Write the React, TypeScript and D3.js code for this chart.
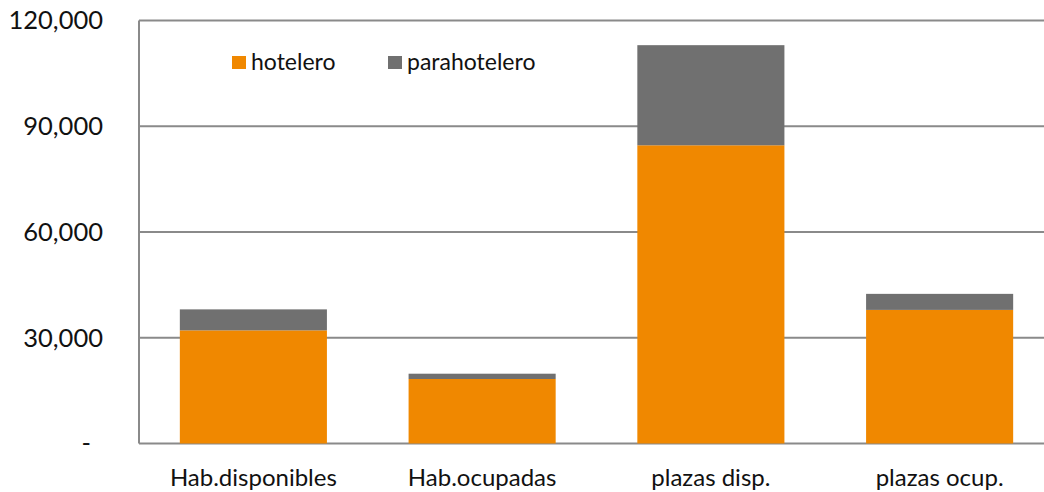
import React from 'react';
import * as d3 from 'd3';

const categories = ['Hab.disponibles', 'Hab.ocupadas', 'plazas disp.', 'plazas ocup.'];
const hotelero = [32100, 18300, 84600, 37900];
const parahotelero = [5950, 1500, 28400, 4550];
const seriesNames = ['hotelero', 'parahotelero'];
const seriesColors = ['#F08800', '#707070'];
const yTicks = [0, 30000, 60000, 90000, 120000];

const W = 1044;
const H = 492;
const FONT = 'Lato, "Open Sans", sans-serif';

const App = () => {
  // plot area runs a bit past the right edge of the picture
  const x = d3.scaleBand<string>()
    .domain(categories)
    .range([139, 1054])
    .paddingInner(0.357)
    .paddingOuter(0.1785);

  const y = d3.scaleLinear().domain([0, 120000]).range([443.5, 20.5]);

  const rows = categories.map((c, i) => ({ cat: c, hotelero: hotelero[i], parahotelero: parahotelero[i] }));
  const stacked = d3.stack<any>().keys(seriesNames)(rows);
  const fmt = d3.format(',');

  return (
    <svg width={W} height={H} style={{ position: 'absolute', left: 0, top: 0, background: '#fff' }}
      fontFamily={FONT}>
      {yTicks.map(t => (
        <g key={t}>
          <line x1={139} x2={W} y1={y(t)} y2={y(t)} stroke="#8a8a8a" strokeWidth={2} />
          <text x={t === 0 ? 91 : 103} y={y(t)} dy="0.35em" textAnchor="end" fontSize={25.5} fill="#111">
            {t === 0 ? '-' : fmt(t)}
          </text>
        </g>
      ))}
      <line x1={139} x2={139} y1={y(120000)} y2={y(0)} stroke="#8a8a8a" strokeWidth={2} />
      {stacked.map((s, si) => (
        <g key={s.key} fill={seriesColors[si]}>
          {s.map((d, i) => (
            <rect key={i} x={x(categories[i])} width={x.bandwidth()}
              y={y(d[1])} height={y(d[0]) - y(d[1])} />
          ))}
        </g>
      ))}
      {categories.map(c => (
        <text key={c} x={(x(c) as number) + x.bandwidth() / 2} y={485.5} textAnchor="middle"
          fontSize={24} fill="#111">{c}</text>
      ))}
      {seriesNames.map((n, i) => (
        <g key={n} transform={`translate(${[232, 388][i]},56)`}>
          <rect width={14} height={13} fill={seriesColors[i]} />
          <text x={19} y={14} fontSize={23} fill="#111">{n}</text>
        </g>
      ))}
    </svg>
  );
};

export default App;
